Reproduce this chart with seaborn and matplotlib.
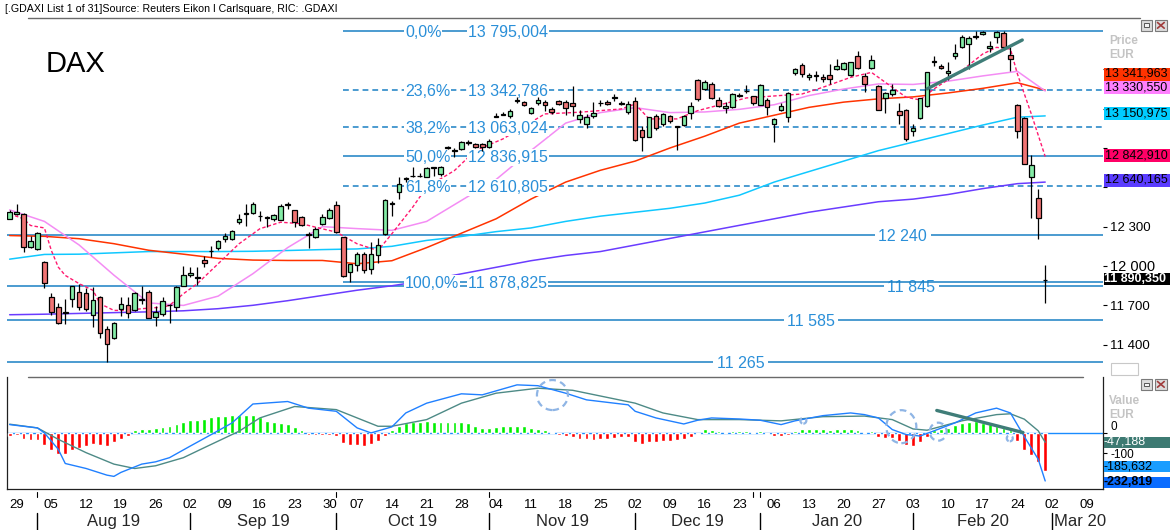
import numpy as np
import pandas as pd
import matplotlib
matplotlib.use("Agg")
import matplotlib.pyplot as plt
import matplotlib.transforms as mtrans
from matplotlib.patches import Rectangle, Ellipse
from matplotlib.lines import Line2D
import seaborn as sns

# ---------------------------------------------------------------- data
holidays = ["2019-10-03", "2019-12-24", "2019-12-25", "2019-12-26", "2019-12-31", "2020-01-01"]
bdays = pd.bdate_range("2019-07-26", "2020-03-13")
trading_days = bdays[~bdays.isin(pd.to_datetime(holidays))]

opens = [12362,12398,12400,12143,12130,12032,11760,11687,11640,11750,
         11803,11796,11627,11760,11521,11450,11668,11704,11667,11740,
         11803,11610,11636,11700,11686,11846,11932,11910,12042,12115,
         12136,12205,12207,12334,12400,12405,12385,12370,12360,12353,
         12465,12428,12372,12245,12220,12321,12367,12466,12220,11953,
         12004,12094,11979,12081,12245,12475,12568,12660,12690,12690,
         12680,12750,12700,12900,12880,12893,12940,12931,12931,12906,
         13140,13155,13147,13262,13249,13170,13246,13249,13198,13256,
         13249,13241,13122,13084,13147,13240,13254,13285,13238,13173,
         13256,13038,12987,13147,13084,13142,13060,13078,13165,13419,
         13351,13389,13267,13206,13211,13300,13335,13295,13231,13267,
         13084,13193,13140,13470,13536,13439,13450,13444,13460,13503,
         13503,13460,13604,13452,13511,13376,13282,13313,13185,13193,
         13033,13130,13223,13560,13528,13473,13604,13673,13694,13757,
         13770,13663,13749,13775,13612,13229,13132,12682,12517,11895]
highs = [12425,12476,12405,12225,12262,12035,11796,11720,11745,11850,
         11865,11830,11839,11770,11540,11570,11760,11760,11800,11851,
         11820,11691,11760,11712,11850,12000,11990,11990,12077,12150,
         12200,12250,12271,12395,12469,12490,12420,12385,12400,12470,
         12490,12430,12385,12258,12295,12395,12440,12499,12220,12017,
         12110,12110,12180,12210,12510,12499,12677,12680,12758,12707,
         12758,12758,12765,12915,12901,12950,12960,12940,12940,12965,
         13165,13175,13195,13290,13260,13210,13290,13270,13215,13270,
         13265,13376,13190,13160,13249,13270,13265,13310,13260,13255,
         13290,13070,13140,13160,13170,13150,13071,13150,13250,13425,
         13420,13400,13290,13250,13320,13320,13380,13300,13390,13280,
         13130,13240,13330,13510,13550,13470,13490,13465,13540,13580,
         13555,13560,13640,13470,13610,13380,13330,13390,13240,13200,
         13080,13285,13480,13605,13540,13555,13690,13760,13757,13790,
         13795,13720,13795,13795,13668,13236,13135,12848,12589,12004]
lows = [12355,12390,12105,12136,12125,11834,11625,11560,11555,11688,
        11667,11660,11534,11450,11267,11440,11618,11600,11660,11712,
        11600,11541,11620,11567,11660,11846,11915,11855,11991,12065,
        12125,12180,12200,12320,12307,12400,12345,12300,12340,12350,
        12435,12296,12305,12136,12215,12315,12360,12255,11915,11877,
        11960,11950,11940,12020,12240,12385,12512,12640,12677,12677,
        12677,12690,12690,12895,12829,12885,12920,12900,12880,12900,
        13135,13150,13130,13245,13220,13160,13230,13180,13160,13230,
        13150,13147,13090,13050,13130,13220,13225,13255,13225,13160,
        12950,12880,12985,13040,13070,13090,12886,13070,13125,13260,
        13340,13275,13215,13170,13205,13290,13320,13230,13225,13150,
        12944,13180,13100,13460,13440,13420,13410,13400,13390,13495,
        13495,13450,13500,13330,13500,13190,13170,13300,13080,12950,
        12995,13120,13210,13528,13500,13420,13580,13665,13503,13730,
        13760,13635,13700,13650,13490,12977,12775,12368,12208,11717]
closes = [12415,12415,12143,12187,12255,11872,11648,11567,11650,11844,
          11690,11674,11742,11488,11407,11562,11712,11643,11796,11747,
          11605,11648,11729,11704,11839,11932,11947,11915,12025,12118,
          12187,12225,12268,12355,12405,12469,12380,12367,12388,12454,
          12469,12339,12309,12240,12284,12377,12429,12258,11920,12012,
          12094,11966,12094,12163,12505,12482,12627,12668,12685,12685,
          12748,12753,12758,12905,12885,12944,12944,12911,12904,12956,
          13147,13160,13180,13267,13231,13204,13267,13231,13178,13236,
          13208,13223,13155,13134,13165,13245,13236,13289,13243,13236,
          12960,12984,13134,13053,13160,13104,13066,13147,13223,13274,
          13401,13282,13223,13223,13312,13305,13338,13244,13381,13216,
          13122,13223,13320,13503,13465,13460,13456,13427,13427,13528,
          13549,13553,13511,13389,13572,13193,13320,13343,13155,12970,
          13050,13282,13477,13566,13511,13490,13625,13749,13739,13744,
          13787,13681,13787,13668,13579,13033,12781,12771,12368,11890]

ma_idx = [0,5,10,15,20,25,30,35,40,45,50,55,60,65,70,75,80,85,90,95,100,105,110,115,120,125,130,135,140,145,149]
ma_red = [12232,12226,12208,12170,12120,12090,12058,12045,12042,12042,12017,12040,12140,12250,12360,
          12510,12640,12730,12800,12900,12990,13090,13150,13210,13250,13275,13290,13320,13355,13398,13342]
ma_violet = [12428,12340,12160,11930,11718,11699,11770,11941,12140,12300,12285,12272,12340,12500,12660,
             12880,13090,13170,13208,13170,13175,13195,13230,13300,13350,13389,13385,13410,13450,13485,13335]
ma_cyan = [12052,12088,12090,12100,12110,12110,12110,12112,12118,12125,12130,12150,12195,12225,12262,
           12290,12340,12380,12410,12440,12480,12540,12640,12720,12800,12880,12945,13010,13075,13135,13145]
ma_purple = [11628,11632,11638,11644,11650,11658,11674,11700,11735,11775,11815,11849,11890,11940,11990,
             12040,12080,12110,12160,12210,12260,12310,12360,12410,12450,12490,12510,12545,12590,12628,12640]
fast_idx = [0,2,3,5,6,7,8,10,12,13,15,17,19,22,23,25,27,30,33,36,39,42,47,50,53,55,58,60,64,67,71,77,
            82,88,90,92,96,99,106,114,117,121,124,126,129,131,133,137,140,142,144,145,147,149]
fast_vals = [12398,12360,12309,12290,12118,11991,11928,11865,11814,11712,11661,11661,11674,11686,11699,
             11788,11865,12017,12169,12284,12334,12322,12258,12169,12118,12246,12449,12601,12728,12880,
             12970,13160,13173,13198,13236,13122,13122,13185,13282,13312,13363,13439,13477,13401,13287,
             13267,13351,13490,13617,13668,13655,13465,13160,12835]

fib_pct = ["0,0%", "23,6%", "38,2%", "50,0%", "61,8%", "100,0%"]
fib_levels = [13795.004, 13342.786, 13063.024, 12836.915, 12610.805, 11878.825]
fib_dashed = [False, True, True, False, True, False]
fib_start_idx = 48
support_levels = [12240, 11845, 11585, 11265]
support_label_idx = [128.5, 129.7, 115.3, 105.2]

trend_idx = [132.0, 145.7]
trend_vals = [13351, 13724]

box_vals = [13341.963, 13330.550, 13150.975, 12842.910, 12640.165]
box_colors = ['#ff3300', '#ff80ff', '#00ccff', '#ff0066', '#5a3cff']
last_price = "11 890,350"

# MACD panel
hist = [-16,-13,-30,-38,-35,-59,-83,-102,-103,-83,
        -76,-67,-54,-60,-63,-48,-30,-16,13,19,
        16,21,25,32,41,52,60,60,63,73,
        79,79,84,84,84,84,73,57,49,44,
        41,25,11,-11,-14,-13,-11,-19,-51,-60,
        -60,-63,-57,-43,-16,13,29,48,49,52,
        56,49,49,49,49,49,44,33,21,21,
        25,29,29,32,29,21,16,11,2,-13,
        -19,-22,-29,-32,-37,-32,-32,-27,-24,-24,
        -44,-56,-44,-44,-40,-40,-35,-32,-21,-8,
        16,13,6,1,6,6,6,1,6,-8,
        -16,-16,-11,8,19,19,19,19,14,19,
        19,19,14,1,8,-24,-27,-27,-40,-60,
        -67,-44,-24,13,19,24,35,48,52,56,
        48,40,32,24,11,-40,-83,-108,-140,-187]
macd_idx = [0,2,4,5,7,8,11,14,15,16,19,21,23,26,29,32,35,40,43,47,50,52,55,57,60,65,68,73,76,80,83,89,
            90,93,97,99,101,105,108,111,113,117,121,123,125,127,129,131,133,136,139,142,144,146,148,149]
macd_vals = [38,30,22,-2,-81,-149,-173,-205,-211,-192,-152,-141,-121,-65,-10,46,137,149,117,102,22,-2,27,94,
             141,186,181,229,225,189,157,133,102,70,41,59,70,65,59,38,56,81,94,86,70,14,-10,-17,8,46,94,117,
             94,-20,-129,-233]
signal_idx = [0,4,7,11,15,18,21,25,28,33,36,41,47,53,55,60,65,70,76,81,90,94,99,105,111,117,123,127,130,
              132,137,142,144,146,148,149]
signal_vals = [40,22,-33,-97,-152,-173,-160,-121,-73,6,70,125,110,30,30,62,141,189,213,203,141,94,62,62,56,
               76,79,62,17,11,56,86,90,64,8,-47]
macd_trend_idx = [133.4, 145.8]
macd_trend_vals = [106, 0]
macd_boxes = [("-47,188", '#3d7a72', 'white', 'normal'),
              ("-185,632", '#1a9dff', 'black', 'normal'),
              ("-232,819", '#0a6cff', 'black', 'bold')]

header = "[.GDAXI List 1 of 31]Source: Reuters Eikon l Carlsquare, RIC: .GDAXI"

# ---------------------------------------------------------------- layout
W, H = 1170, 530
sns.set_theme(style="white")
plt.rcParams['font.family'] = ['Liberation Sans', 'DejaVu Sans']

fig = plt.figure(figsize=(W / 100, H / 100), dpi=100)
fig.patch.set_facecolor('white')


def fx(px):
    return px / W


def fy(py):
    return 1 - py / H


X0, X1 = 7, 1103.3
P_TOP, P_BOT = 17, 373
M_TOP, M_BOT = 376.5, 489
xi0, dxi = 9.65, 6.95            # pixel of first session, pixels per session
py_ref, p_ref, ppp = 30.7, 13795.0, 0.13107
m_zero, mppu = 432.5, 0.208

ax = fig.add_axes([fx(X0), fy(P_BOT), (X1 - X0) / W, (P_BOT - P_TOP) / H])
ax2 = fig.add_axes([fx(X0), fy(M_BOT), (X1 - X0) / W, (M_BOT - M_TOP) / H])
xlim = ((X0 - xi0) / dxi, (X1 - xi0) / dxi)
for a in (ax, ax2):
    a.set_xlim(*xlim)
    a.set_facecolor('white')


def price_at(py):
    return p_ref - (py - py_ref) / ppp


ax.set_ylim(price_at(P_BOT), price_at(P_TOP))
ax2.set_ylim(-(M_BOT - m_zero) / mppu, (m_zero - M_TOP) / mppu)


def fmt(v, dec):
    s = f"{v:,.{dec}f}"
    return s.replace(",", " ").replace(".", ",")


LINE_C = '#1a80c4'
TXT_C = '#2a8fd8'

# fib + support lines
for lvl, dashed, pct in zip(fib_levels, fib_dashed, fib_pct):
    ls = (0, (3.8, 2.6)) if dashed else '-'
    ax.hlines(lvl, fib_start_idx, xlim[1], colors=LINE_C, linestyles=[ls], lw=1.1, zorder=1.5)
    ax.text(56.9, lvl, pct, ha='left', va='center_baseline', fontsize=11.5, color=TXT_C,
            bbox=dict(fc='white', ec='none', pad=0.6), zorder=2.6)
    ax.text(65.95, lvl, fmt(lvl, 3), ha='left', va='center_baseline', fontsize=11.5, color=TXT_C,
            bbox=dict(fc='white', ec='none', pad=0.6), zorder=2.6)
for lvl, li in zip(support_levels, support_label_idx):
    ax.hlines(lvl, xlim[0], xlim[1], colors=LINE_C, lw=1.1, zorder=1)
    ax.text(li, lvl, fmt(lvl, 0), ha='center', va='center_baseline', fontsize=11.5, color=TXT_C,
            bbox=dict(fc='white', ec='none', pad=2.5), zorder=1.2)

# moving averages
sns.lineplot(x=ma_idx, y=ma_purple, ax=ax, color='#6a3cff', linewidth=1.1, zorder=2)
sns.lineplot(x=ma_idx, y=ma_cyan, ax=ax, color='#10c8ff', linewidth=1.1, zorder=2)
sns.lineplot(x=ma_idx, y=ma_red, ax=ax, color='#ff3300', linewidth=1.1, zorder=2)
sns.lineplot(x=ma_idx, y=ma_violet, ax=ax, color='#f48cf4', linewidth=1.1, zorder=2)
ax.plot(fast_idx, fast_vals, color='#ff1a70', lw=1.0, dashes=(2.5, 1.6), zorder=2.1)

# candles
idx = np.arange(len(closes))
o, h, l, c = map(np.array, (opens, highs, lows, closes))
up = c >= o
bottoms = np.minimum(o, c)
heights = np.maximum(np.abs(c - o), 0.5)
ax.vlines(idx, l, h, color='black', lw=0.9, zorder=3)
ax.bar(idx, heights, bottom=bottoms, width=0.66, color=np.where(up, '#84eca6', '#f07474'),
       edgecolor='black', linewidth=0.9, zorder=4)

# trendline drawing
ax.plot(trend_idx, trend_vals, color='#3f7d78', lw=2.4, solid_capstyle='round', zorder=5)

for s in ax.spines.values():
    s.set_visible(False)
ax.set_xticks([])
ax.yaxis.tick_right()
pticks = [11400, 11700, 12000, 12300, 12600, 12900, 13200, 13500]
shown = [11400, 11700, 12000, 12300]
ax.set_yticks(pticks, labels=[fmt(t, 0) if t in shown else "" for t in pticks])
ax.tick_params(axis='y', length=3, width=0.8, pad=2, labelsize=9.5, colors='black', right=True)
for lab in ax.get_yticklabels():
    if lab.get_text() == "12 000":
        lab.set_fontsize(10.5)
ax.grid(False)

# ---------------------------------------------------------------- MACD
ax2.bar(idx, hist, width=0.55, color=np.where(np.array(hist) >= 0, '#00f000', '#ff0000'), zorder=3)
ax2.axhline(0, color='#1a8cff', lw=1.0, zorder=2)
sns.lineplot(x=signal_idx, y=signal_vals, ax=ax2, color='#4d8a86', linewidth=1.0, zorder=4)
sns.lineplot(x=macd_idx, y=macd_vals, ax=ax2, color='#2080ff', linewidth=1.0, zorder=4)
ax2.plot(macd_trend_idx, macd_trend_vals, color='#3f7d78', lw=2.4, zorder=5)

circ_c = '#8fb5e5'
for (ci, cv, wpx, hpx) in [(78.1, 180, 31, 30), (128.3, 28, 30, 33), (133.6, 4, 17, 18),
                           (114.2, 57, 6, 6), (143.9, -28, 6, 6)]:
    ax2.add_patch(Ellipse((ci, cv), wpx / dxi, hpx / mppu, fill=False, ec=circ_c, lw=1.6,
                          ls=(0, (3, 2)), zorder=6))

ax2.spines['top'].set_visible(False)
for side in ('left', 'bottom', 'right'):
    ax2.spines[side].set_visible(True)
    ax2.spines[side].set_color('#202020')
    ax2.spines[side].set_linewidth(0.9)
ax2.yaxis.tick_right()
ax2.set_yticks([0, -100], labels=["0", "-100"])
ax2.tick_params(axis='y', length=3, width=0.8, pad=2, labelsize=8.5, colors='black', right=True)
for lab in ax2.get_yticklabels():
    if lab.get_text() == "0":
        lab.set_verticalalignment('bottom')

# day labels (first session of each week)
day_idx, day_lbl = [], []
prev_week = None
for i, d in enumerate(trading_days):
    wk = d.isocalendar()[1]
    if wk != prev_week:
        if d.strftime("%Y-%m-%d") != "2019-12-30" and i > 0:
            day_idx.append(i)
            day_lbl.append(d.strftime("%d"))
        prev_week = wk
day_idx = [i for i in day_idx if i <= 155]
day_lbl = day_lbl[:len(day_idx)]
ax2.set_xticks(day_idx, labels=day_lbl)
ax2.tick_params(axis='x', length=0, pad=7, labelsize=9.5, colors='black')
ax2.grid(False)

trans = mtrans.blended_transform_factory(ax2.transData, fig.transFigure)
month_start = []
for i in range(1, len(trading_days)):
    if trading_days[i].month != trading_days[i - 1].month:
        month_start.append(i)
month_start = [m for m in month_start if m <= 150]
for m in month_start:
    ax2.plot([m, m], [fy(513), fy(530)], transform=trans, color='black', lw=1.0, clip_on=False)
    if trading_days[m].weekday() != 0:
        ax2.plot([m, m], [fy(492), fy(497)], transform=trans, color='black', lw=0.8, clip_on=False)
ax2.plot([107, 107], [fy(492), fy(497)], transform=trans, color='black', lw=0.8, clip_on=False)
for a_, b_ in zip(month_start[:-1], month_start[1:]):
    ax2.text((a_ + b_) / 2, fy(521.5), trading_days[a_].strftime("%b %y"), transform=trans,
             ha='center', va='center', fontsize=12, clip_on=False)
ax2.text(month_start[-1] + 0.3, fy(521.5), trading_days[month_start[-1]].strftime("%b %y"),
         transform=trans, ha='left', va='center', fontsize=12, clip_on=False)

# ---------------------------------------------------------------- decorations


def fig_box(x0, y0, x1, y1, fc, ec='none', lw=0.0, z=5):
    fig.add_artist(Rectangle((fx(x0), fy(y1)), (x1 - x0) / W, (y1 - y0) / H, transform=fig.transFigure,
                             facecolor=fc, edgecolor=ec, linewidth=lw, zorder=z))


fig.text(fx(5), fy(8.5), header, fontsize=7.7, va='center', ha='left', color='black')
fig.add_artist(Line2D([fx(28), fx(1140)], [fy(17.5), fy(17.5)], color='#6a6a6a', lw=1.0))
fig.add_artist(Line2D([fx(28), fx(1083)], [fy(376.5), fy(376.5)], color='#6a6a6a', lw=1.0))
fig.text(fx(46), fy(64), "DAX", fontsize=21, va='center', ha='left', color='black')

box_y = [74, 87.5, 113, 155, 180]
for v, col, yc in zip(box_vals, box_colors, box_y):
    fig_box(1103.5, yc - 6.5, 1170, yc + 6.5, col, z=6)
    fig.text(fx(1105), fy(yc), fmt(v, 3), fontsize=9, va='center', ha='left', color='black', zorder=7)
fig_box(1103.5, 272.5, 1170, 284.5, 'black', z=6)
fig.text(fx(1104), fy(278.5), last_price, fontsize=9, fontweight='bold', va='center', ha='left',
         color='white', zorder=7)

for (txt, bg, tc, fw), yc in zip(macd_boxes, [442, 466.2, 482]):
    fig_box(1103.5, yc - 5.5, 1170, yc + 5.5, bg, z=6)
    fig.text(fx(1104), fy(yc), txt, fontsize=9, va='center', ha='left', color=tc, fontweight=fw, zorder=7)

for (t1, t2, y1, y2) in [("Price", "EUR", 40.7, 55), ("Value", "EUR", 400.7, 415)]:
    fig.text(fx(1109), fy(y1), t1, fontsize=8.5, fontweight='bold', color='#c4c4c4', va='center')
    fig.text(fx(1109), fy(y2), t2, fontsize=8.5, fontweight='bold', color='#c4c4c4', va='center')

for ytop in (20, 379):
    fig_box(1140.7, ytop, 1151.7, ytop + 10.7, '#dcdcdc', ec='#7a7a7a', lw=0.8)
    fig_box(1143.5, ytop + 3.5, 1149, ytop + 7, '#f4f4f4', ec='#555555', lw=0.7, z=6)
    fig_box(1155, ytop, 1166.7, ytop + 10.7, '#dcdcdc', ec='#7a7a7a', lw=0.8)
    fig.add_artist(Line2D([fx(1157.5), fx(1164.2)], [fy(ytop + 2.5), fy(ytop + 8.2)], color='#a03c3c', lw=1.2, zorder=7))
    fig.add_artist(Line2D([fx(1157.5), fx(1164.2)], [fy(ytop + 8.2), fy(ytop + 2.5)], color='#a03c3c', lw=1.2, zorder=7))

fig_box(1110.7, 363.3, 1138.3, 375, 'white', ec='#c8c8c8', lw=0.8)
fig.text(fx(1124.5), fy(369.3), "Auto", fontsize=8, fontweight='bold', color='#c4c4c4', va='center', ha='center')

fig.savefig("out.png", dpi=100)
